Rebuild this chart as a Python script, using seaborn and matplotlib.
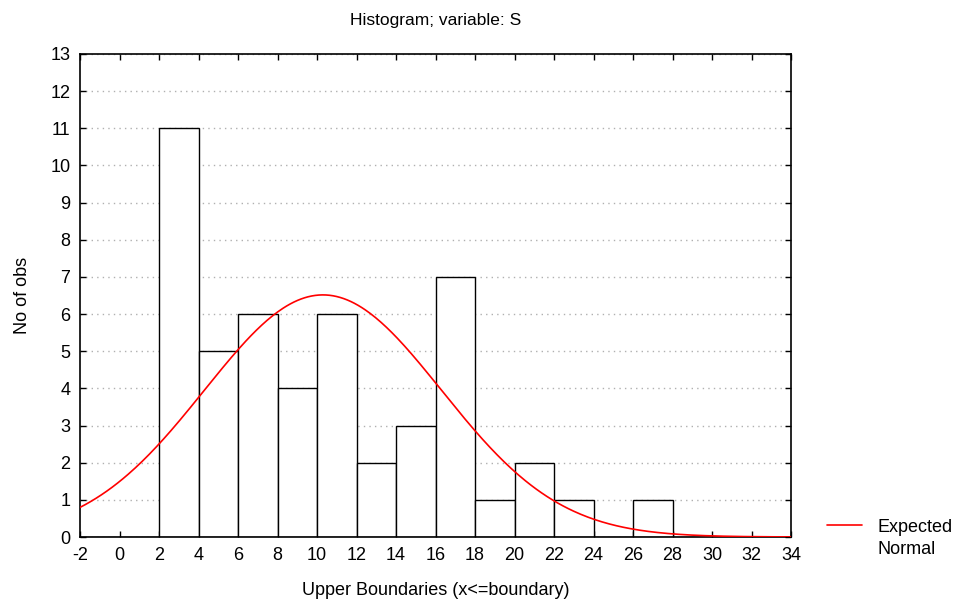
import numpy as np
import pandas as pd
import matplotlib
matplotlib.use("Agg")
import matplotlib.pyplot as plt
import seaborn as sns

# Data
bin_edges = [-2, 0, 2, 4, 6, 8, 10, 12, 14, 16, 18, 20, 22, 24, 26, 28, 30, 32, 34]
counts = [0, 0, 11, 5, 6, 4, 6, 2, 3, 7, 1, 2, 1, 0, 1, 0, 0, 0]
normal_mean = 10.3
normal_sd = 6.0
x_ticks = list(range(-2, 35, 2))
y_ticks = list(range(0, 14))

sns.set_theme(style="white")
plt.rcParams['font.family'] = ['Liberation Sans', 'DejaVu Sans']
plt.rcParams['axes.unicode_minus'] = False
plt.rcParams['text.color'] = 'black'
plt.rcParams['axes.labelcolor'] = 'black'
plt.rcParams['xtick.color'] = 'black'
plt.rcParams['ytick.color'] = 'black'

fig = plt.figure(figsize=(9.63, 6.03), dpi=100)
ax = fig.add_axes([80/963, 66/603, (791-80)/963, (537-54)/603])

centers = [(bin_edges[i] + bin_edges[i+1]) / 2 for i in range(len(counts))]
df = pd.DataFrame({"x": centers, "n": counts})
sns.histplot(data=df, x="x", weights="n", bins=bin_edges, ax=ax,
             color="white", edgecolor="black", linewidth=1.0, alpha=1.0, zorder=2)

n_total = sum(counts)
bw = bin_edges[1] - bin_edges[0]
xs = np.linspace(bin_edges[0], bin_edges[-1], 400)
ys = n_total * bw * np.exp(-0.5 * ((xs - normal_mean) / normal_sd) ** 2) / (normal_sd * np.sqrt(2 * np.pi))
sns.lineplot(x=xs, y=ys, ax=ax, color="red", linewidth=1.2, label="Expected", zorder=3)

ax.set_xlim(bin_edges[0], bin_edges[-1])
ax.set_ylim(0, 13)
ax.set_xticks(x_ticks)
ax.set_yticks(y_ticks)
ax.tick_params(axis='both', direction='in', length=4, width=1, color='black',
               labelsize=13, top=True, right=True, bottom=True, left=True, pad=7)
ax.yaxis.grid(True, linestyle=(0, (1, 3)), color='#b0b0b0', linewidth=1, zorder=0)
ax.xaxis.grid(False)
ax.set_axisbelow(True)
for s in ax.spines.values():
    s.set_color('black')
    s.set_linewidth(1.2)

ax.set_xlabel("Upper Boundaries (x<=boundary)", fontsize=13, labelpad=13)
ax.set_ylabel("No of obs", fontsize=13, labelpad=14)
ax.set_title("Histogram; variable: S", fontsize=12.5, pad=21)

leg = ax.legend(loc='center left', bbox_to_anchor=((827-80)/711, 10/483), frameon=False,
                fontsize=13, handlelength=1.95, handletextpad=0.83, borderaxespad=0, borderpad=0)
fig.text(877/963, 1 - 549/603, "Normal", fontsize=13, va='center', ha='left', color='black')

fig.savefig("out.png", dpi=100)
